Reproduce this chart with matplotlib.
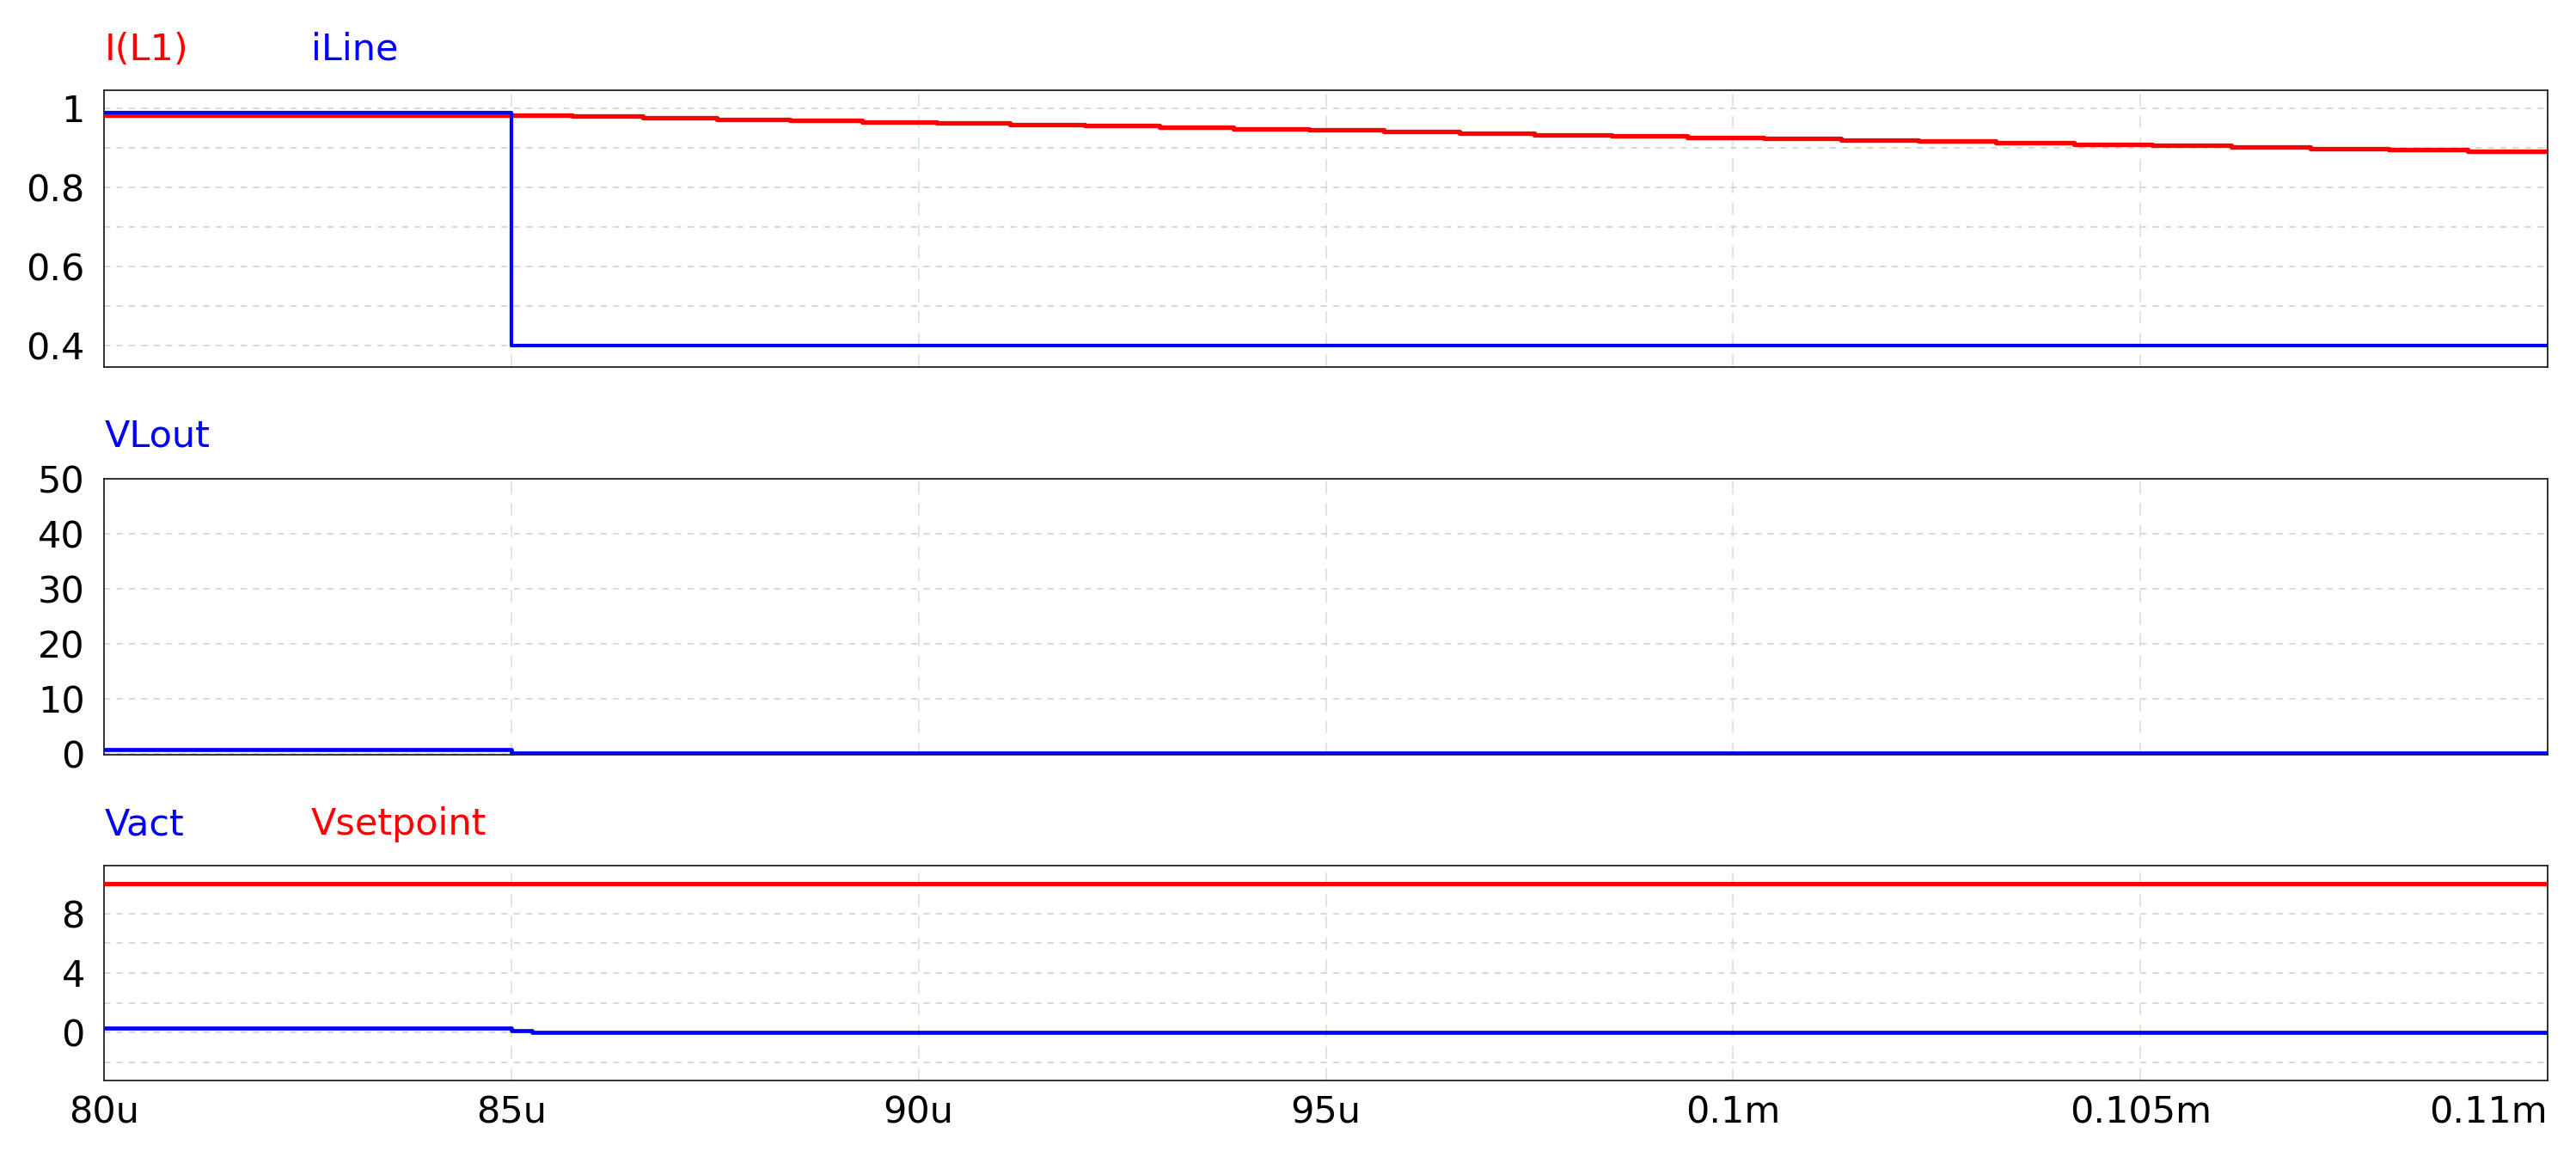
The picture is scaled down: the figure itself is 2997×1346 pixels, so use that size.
import numpy as np
import matplotlib
matplotlib.use("Agg")
import matplotlib.pyplot as plt
from matplotlib.ticker import FixedLocator, NullFormatter

plt.rcParams['font.family'] = ['DejaVu Sans']

# time axis (seconds)
x_ticks = [80e-6, 85e-6, 90e-6, 95e-6, 100e-6, 105e-6, 110e-6]
x_labels = ['80u', '85u', '90u', '95u', '0.1m', '0.105m', '0.11m']

# I(L1): slowly falling staircase, step times in us and levels
il1_t = [80.0, 85.75, 86.62, 87.52, 88.42, 89.31, 90.22, 91.12, 92.04, 92.96,
         93.87, 94.79, 95.71, 96.64, 97.56, 98.51, 99.44, 100.38, 101.33,
         102.28, 103.23, 104.19, 105.15, 106.12, 107.09, 108.05, 109.02, 110.0]
il1_v = [0.983, 0.980, 0.976, 0.972, 0.969, 0.965, 0.962, 0.958, 0.955, 0.951,
         0.948, 0.944, 0.940, 0.937, 0.933, 0.930, 0.926, 0.923, 0.919, 0.916,
         0.912, 0.909, 0.905, 0.901, 0.898, 0.894, 0.891, 0.891]

# iLine
iline_t = [80.0, 85.0, 110.0]
iline_v = [0.989, 0.40, 0.40]

# VLout
vlout_t = [80.0, 85.0, 110.0]
vlout_v = [0.8, 0.15, 0.15]

# Vact / Vsetpoint
vact_t = [80.0, 85.0, 85.26, 85.83, 110.0]
vact_v = [0.30, 0.16, 0.0, 0.0, 0.0]
vset_t = [80.0, 110.0]
vset_v = [10.0, 10.0]

RED = '#ff0000'
BLUE = '#0000ff'
FS = 31

W, H = 2997, 1346
fig = plt.figure(figsize=(W / 100, H / 100), dpi=100)

def px_axes(top, bottom, left=121, right=2964):
    return fig.add_axes([left / W, 1 - bottom / H, (right - left) / W, (bottom - top) / H])

ax1 = px_axes(105, 427)
ax2 = px_axes(557, 878)
ax3 = px_axes(1007, 1257)

def us(t):
    return np.array(t) * 1e-6

ax1.plot(us(il1_t), il1_v, drawstyle='steps-post', color=RED, lw=3.8, zorder=3)
ax1.plot(us(iline_t), iline_v, drawstyle='steps-post', color=BLUE, lw=3.0, zorder=4)
ax2.plot(us(vlout_t), vlout_v, drawstyle='steps-post', color=BLUE, lw=3.4, zorder=3)
ax3.plot(us(vset_t), vset_v, color=RED, lw=3.6, zorder=3)
ax3.plot(us(vact_t), vact_v, drawstyle='steps-post', color=BLUE, lw=3.4, zorder=3)

ax1.set_ylim(0.345, 1.045)
ax1.yaxis.set_major_locator(FixedLocator([0.4, 0.6, 0.8, 1.0]))
ax1.yaxis.set_minor_locator(FixedLocator([0.5, 0.7, 0.9]))
ax1.set_yticklabels(['0.4', '0.6', '0.8', '1'])

ax2.set_ylim(-0.2, 50)
ax2.yaxis.set_major_locator(FixedLocator([0, 10, 20, 30, 40, 50]))

ax3.set_ylim(-3.2, 11.2)
ax3.yaxis.set_major_locator(FixedLocator([0, 4, 8]))
ax3.yaxis.set_minor_locator(FixedLocator([-2, 2, 6]))

for ax in (ax1, ax2, ax3):
    ax.set_xlim(80e-6, 110e-6)
    ax.xaxis.set_major_locator(FixedLocator(x_ticks))
    ax.yaxis.set_minor_formatter(NullFormatter())
    ax.grid(True, axis='y', which='both', color='#d6d6d6', ls=(0, (4, 4)), lw=1.3, zorder=0)
    ax.grid(True, axis='x', which='major', color='#d6e8d6', ls=(0, (8, 6)), lw=1.3, zorder=0)
    ax.tick_params(axis='both', which='both', length=0, labelsize=FS)
    ax.tick_params(axis='y', pad=16)
    ax.tick_params(axis='x', pad=12)
    for s in ax.spines.values():
        s.set_color('#222222')
        s.set_linewidth(1.3)
    ax.set_axisbelow(True)

ax1.set_xticklabels([])
ax2.set_xticklabels([])
ax3.set_xticklabels(x_labels)
ax3.get_xticklabels()[-1].set_horizontalalignment('right')

# series names above each panel
def label(x, y, s, c):
    fig.text(x / W, 1 - y / H, s, color=c, fontsize=FS, va='baseline', ha='left')

label(122, 70, 'I(L1)', RED)
label(362, 70, 'iLine', BLUE)
label(122, 520, 'VLout', BLUE)
label(122, 971, 'Vact', BLUE)
label(362, 971, 'Vsetpoint', RED)

fig.savefig('out.png', dpi=100)
